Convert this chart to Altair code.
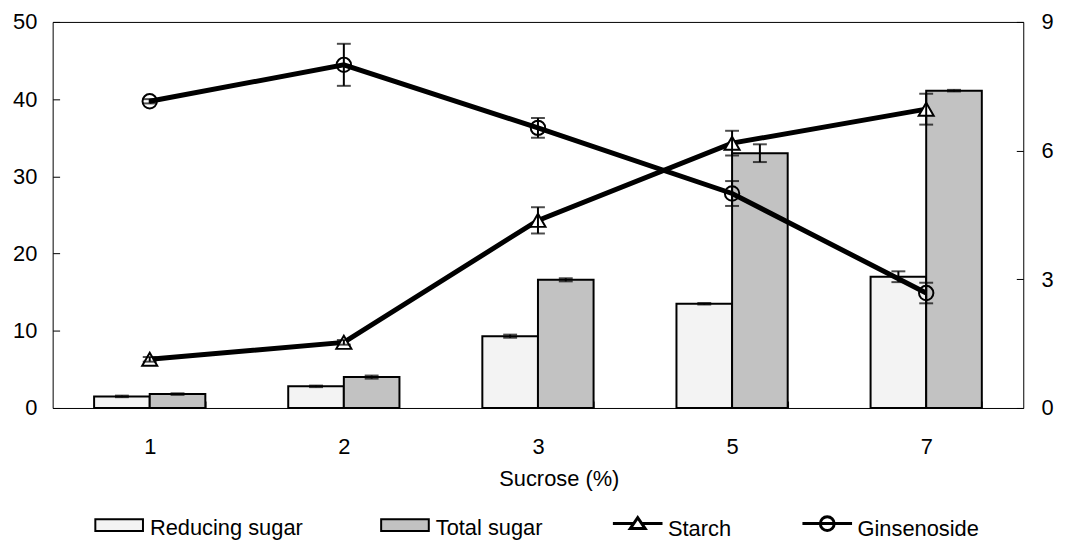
import altair as alt
import pandas as pd

FONT = "Liberation Sans"

sucrose = ["1", "2", "3", "5", "7"]
bar_series = ["Reducing sugar", "Total sugar"]
line_series = ["Starch", "Ginsenoside"]

reducing = [1.5, 2.8, 9.3, 13.5, 17.0]
reducing_err = [0.1, 0.1, 0.2, 0.1, 0.7]
total = [1.8, 4.0, 16.6, 33.0, 41.1]
total_err = [0.1, 0.2, 0.2, 1.15, 0.1]
starch = [6.3, 8.5, 24.3, 34.3, 38.7]
starch_err = [0.3, 0.3, 1.7, 1.6, 2.0]
ginsenoside = [7.15, 8.0, 6.53, 5.0, 2.68]
ginsenoside_err = [0.05, 0.49, 0.23, 0.29, 0.24]

left_ticks = [0, 10, 20, 30, 40, 50]
right_ticks = [0, 3, 6, 9]
bar_colors = ["#f3f3f3", "#c2c2c2"]
rect_path = "M-1,-0.375H1V0.125H-1Z"
tri_path = "M-1,-0.2H-0.164M0.164,-0.2H1M-0.3,0L0,-0.44L0.3,0Z"
circ_path = "M-1,-0.2H1M0.28,-0.2A0.28,0.28 0 1,1 -0.28,-0.2A0.28,0.28 0 1,1 0.28,-0.2Z"


def frame(name, vals, errs):
    return pd.DataFrame({
        "sucrose": sucrose,
        "series": name,
        "value": vals,
        "lo": [v - e for v, e in zip(vals, errs)],
        "hi": [v + e for v, e in zip(vals, errs)],
    })


bars_df = pd.concat([frame(bar_series[0], reducing, reducing_err),
                     frame(bar_series[1], total, total_err)], ignore_index=True)
starch_df = frame("Starch", starch, starch_err)
gins_df = frame("Ginsenoside", ginsenoside, ginsenoside_err)

x_scale = alt.Scale(type="band", domain=sucrose, paddingInner=0.427, paddingOuter=0.2135)
x_axis = alt.Axis(title="Sucrose (%)", labelAngle=0, offset=-7, domain=False, tickSize=7,
                  tickBand="extent", tickColor="black", labelPadding=29, labelFontSize=22,
                  labelFont=FONT, labelColor="black", titleFontSize=22, titleFont=FONT,
                  titleFontWeight="normal", titleColor="black", titleX=510, titleY=85,
                  titleBaseline="alphabetic", grid=False)
X = alt.X("sucrose:N", sort=sucrose, scale=x_scale, axis=x_axis)
XOFF = alt.XOffset("series:N", sort=bar_series,
                   scale=alt.Scale(domain=bar_series, paddingInner=0, paddingOuter=0))

left_axis = alt.Axis(values=left_ticks, orient="left", offset=-7, domain=False, tickSize=7,
                     tickColor="black", labelPadding=16, labelFontSize=22, labelFont=FONT,
                     labelColor="black", title=None, grid=False)
right_axis = alt.Axis(values=right_ticks, orient="right", offset=-7, domain=False, tickSize=7,
                      tickColor="black", labelPadding=18, labelFontSize=22, labelFont=FONT,
                      labelColor="black", title=None, grid=False)
left_scale = alt.Scale(domain=[0, 50], nice=False)
right_scale = alt.Scale(domain=[0, 9], nice=False)

LEG_COMMON = dict(title=None, orient="none", direction="horizontal", symbolOpacity=1,
                  labelFont=FONT, labelFontSize=22, labelColor="black", labelLimit=400)

fill_legend = alt.Legend(legendX=42, legendY=485, symbolType=rect_path, symbolSize=2304,
                         symbolStrokeColor="black", symbolStrokeWidth=2, labelOffset=6,
                         columnPadding=74, **LEG_COMMON)
starch_legend = alt.Legend(legendX=563, legendY=484, symbolType=tri_path, symbolSize=2500,
                           symbolStrokeColor="black", symbolStrokeWidth=3, labelOffset=4,
                           **LEG_COMMON)
gins_legend = alt.Legend(legendX=754, legendY=484, symbolType=circ_path, symbolSize=2500,
                         symbolStrokeWidth=3, labelOffset=4, **LEG_COMMON)


def err_layers(df, scale, axis, with_offset=False):
    enc = dict(x=X)
    if with_offset:
        enc["xOffset"] = XOFF
    base = alt.Chart(df)
    rule = base.mark_rule(color="black", strokeWidth=2).encode(
        y=alt.Y("lo:Q", scale=scale, axis=axis), y2="hi:Q", **enc)
    cap = base.transform_fold(["lo", "hi"], as_=["k", "end"]).mark_tick(
        color="black", thickness=2, size=14).encode(
        y=alt.Y("end:Q", scale=scale, axis=axis), **enc)
    return rule, cap


bars = alt.Chart(bars_df).mark_bar(stroke="black", strokeWidth=2).encode(
    x=X, xOffset=XOFF,
    y=alt.Y("value:Q", scale=left_scale, axis=left_axis),
    fill=alt.Fill("series:N", sort=bar_series,
                  scale=alt.Scale(domain=bar_series, range=bar_colors), legend=fill_legend),
)
bar_rule, bar_cap = err_layers(bars_df, left_scale, left_axis, with_offset=True)

starch_line = alt.Chart(starch_df).mark_line(color="black", strokeWidth=5).encode(
    x=X, y=alt.Y("value:Q", scale=left_scale, axis=left_axis))
starch_pts = alt.Chart(starch_df).mark_point(
    shape="triangle-up", filled=True, fill="white", stroke="black", strokeWidth=2,
    size=230, opacity=1).encode(x=X, y=alt.Y("value:Q", scale=left_scale, axis=left_axis))
st_rule, st_cap = err_layers(starch_df, left_scale, left_axis)

# legend-only layers (no rows drawn): one legend entry each for the two lines
starch_key = alt.Chart(starch_df).transform_filter("datum.value < 0").mark_bar(
    stroke="black", strokeWidth=3).encode(
    x=X, y=alt.Y("value:Q", scale=left_scale, axis=left_axis),
    color=alt.Color("series:N", scale=alt.Scale(domain=[line_series[0]], range=["white"]),
                    legend=starch_legend),
)
gins_key = alt.Chart(gins_df).transform_filter("datum.value < 0").mark_bar(
    fill="white", strokeWidth=3).encode(
    x=X, y=alt.Y("value:Q", scale=left_scale, axis=left_axis),
    stroke=alt.Stroke("series:N", scale=alt.Scale(domain=[line_series[1]], range=["black"]),
                      legend=gins_legend),
)

gins_line = alt.Chart(gins_df).mark_line(color="black", strokeWidth=5).encode(
    x=X, y=alt.Y("value:Q", scale=right_scale, axis=right_axis))
gins_pts = alt.Chart(gins_df).mark_point(
    shape="circle", filled=False, stroke="black", strokeWidth=2, size=210,
    opacity=1).encode(x=X, y=alt.Y("value:Q", scale=right_scale, axis=right_axis))
g_rule, g_cap = err_layers(gins_df, right_scale, right_axis)

left = alt.layer(bars, bar_rule, bar_cap, starch_line, starch_pts, st_rule, st_cap,
                 starch_key, gins_key)
right = alt.layer(gins_line, gins_pts, g_rule, g_cap)

chart = alt.layer(left, right).resolve_scale(y="independent").properties(
    width=978, height=389,
    autosize=alt.AutoSizeParams(type="none"),
    padding={"left": 45, "top": 12, "right": 34, "bottom": 132},
).configure(font=FONT).configure_view(stroke="black", strokeWidth=1)

chart.save("out.html", embed_options={"renderer": "svg", "actions": False})
